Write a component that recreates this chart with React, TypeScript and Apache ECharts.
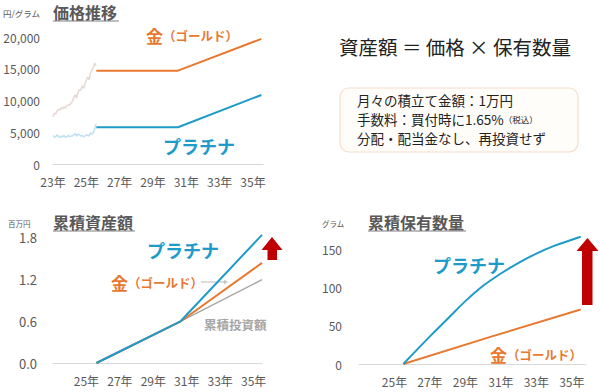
import React, { useEffect, useRef } from "react";
import * as echarts from "echarts";

// ---- data ----
const histStartYear = 23;
const goldHist = [7400, 8000, 7900, 8400, 8600, 8500, 8900, 8700, 9000, 8800, 9200, 9300, 9300, 9600, 9900, 10500, 10900, 10400, 11300, 11700, 11600, 12300, 11900, 12700, 13200, 13700, 13300, 14300, 14800, 15100, 15900, 15500];
const platHist = [4500, 4200, 4300, 4600, 4300, 4200, 4400, 4300, 4500, 4200, 4300, 4500, 4300, 4400, 4400, 4600, 4800, 4400, 4700, 4600, 4400, 4500, 4300, 4400, 4600, 4500, 4400, 4900, 4700, 4900, 5500, 6300];

const projYears = [25.6, 30.5, 35.5];
const goldProj = [14700, 14700, 19700];
const platProj = [5780, 5780, 10870];

const assetYears = [25.6, 30.6, 35.5];
const investAsset = [0, 0.59, 1.19];
const goldAsset = [0, 0.59, 1.43];
const platAsset = [0, 0.59, 1.83];

const platHoldYears = [25.5, 27, 28, 29, 30, 31, 32, 33, 34, 35, 35.5];
const platHold = [0, 36, 59, 82, 102, 118, 132, 144, 154, 162, 166];
const goldHoldYears = [25.5, 30.5, 35.5];
const goldHold = [0, 36, 71];

const priceTicks = [0, 5000, 10000, 15000, 20000];
const yearTickStep = 2;

const GOLD = "#E8782F";
const PLAT = "#1E9BC8";
const GRAY = "#595959";
const FONT = "'Noto Sans CJK JP', 'Noto Sans', sans-serif";

const pairs = (xs: number[], ys: number[]) => xs.map((x, i) => [x, ys[i]]);

export default function App() {
  const ref = useRef<HTMLDivElement>(null);
  useEffect(() => {
    if (!ref.current) return;
    const chart = echarts.init(ref.current, undefined, { renderer: "svg" });

    const xLabel = (hide23: boolean) => (v: number) => {
      if (Math.abs(v - Math.round(v)) > 1e-6) return "";
      if ((Math.round(v) - 23) % yearTickStep !== 0) return "";
      if (hide23 && Math.round(v) === 23) return "";
      return Math.round(v) + "年";
    };
    const mkX = (grid: number, max: number, hide23: boolean) => ({
      type: "value",
      gridIndex: grid,
      min: 23,
      max,
      interval: yearTickStep,
      axisLine: { show: true, lineStyle: { color: "#D9D9D9", width: 1 } },
      axisTick: { show: false },
      splitLine: { show: false },
      axisLabel: { formatter: xLabel(hide23), color: GRAY, fontSize: 12, fontFamily: FONT, margin: 11 },
    });
    const mkY = (grid: number, max: number, interval: number, fmt: (v: number) => string, fs: number, margin: number) => ({
      type: "value",
      gridIndex: grid,
      min: 0,
      max,
      interval,
      axisLine: { show: false },
      axisTick: { show: false },
      splitLine: { show: false },
      axisLabel: { formatter: fmt, color: GRAY, fontSize: fs, fontFamily: FONT, margin },
    });
    const isMult = (v: number, s: number) => Math.abs(v / s - Math.round(v / s)) < 1e-6;

    const line = (xi: number, data: number[][], color: string, width: number, smooth: any = false) => ({
      type: "line",
      xAxisIndex: xi,
      yAxisIndex: xi,
      data,
      showSymbol: false,
      symbol: "none",
      smooth,
      lineStyle: { color, width },
      itemStyle: { color },
      clip: false,
    });

    const histX = goldHist.map((_, i) => histStartYear + i / 12);

    const txt = (x: number, y: number, text: string, size: number, color: string, weight: any = "normal", align = "left") => ({
      type: "text",
      x,
      y,
      style: { text, fill: color, fontSize: size, fontWeight: weight, fontFamily: FONT, align, verticalAlign: "middle" },
    });
    const goldLabel = (x: number, y: number) => ({
      type: "text",
      x,
      y,
      style: {
        text: "{a|金}{b|（ゴールド）}",
        verticalAlign: "middle",
        align: "left",
        rich: {
          a: { fontSize: 17, fontWeight: "bold", fill: GOLD, fontFamily: FONT },
          b: { fontSize: 12.5, fontWeight: "bold", fill: GOLD, fontFamily: FONT },
        },
      },
    });
    const title = (x: number, y: number, text: string, w: number) => [
      txt(x, y, text, 16, GRAY, "bold"),
      { type: "line", shape: { x1: x, y1: y + 9, x2: x + w, y2: y + 9 }, style: { stroke: "#7F7F7F", lineWidth: 1.2 } },
    ];

    chart.setOption({
      animation: false,
      backgroundColor: "#ffffff",
      grid: [
        { left: 53, top: 37, width: 210, height: 127 },
        { left: 53, top: 230, width: 209, height: 133 },
        { left: 359, top: 226, width: 227, height: 138 },
      ],
      xAxis: [mkX(0, 35.6, false), mkX(1, 35.5, true), mkX(2, 35.8, true)],
      yAxis: [
        mkY(0, priceTicks[priceTicks.length - 1], priceTicks[1], (v: number) => v.toLocaleString("en-US"), 12, 13),
        mkY(1, 1.9, 0.6, (v: number) => (isMult(v, 0.6) ? v.toFixed(1) : ""), 13, 16),
        mkY(2, 180, 50, (v: number) => (isMult(v, 50) ? String(v) : ""), 12, 17),
      ],
      series: [
        line(0, pairs(histX, goldHist), "#E6D8D3", 1.5),
        line(0, pairs(histX, platHist), "#BEE0F2", 1.5),
        line(0, pairs(projYears, goldProj), GOLD, 2),
        line(0, pairs(projYears, platProj), PLAT, 2),
        line(1, pairs(assetYears, investAsset), "#A6A6A6", 1.5),
        line(1, pairs(assetYears, goldAsset), GOLD, 2),
        line(1, pairs(assetYears, platAsset), PLAT, 2),
        line(2, pairs(goldHoldYears, goldHold), GOLD, 2),
        line(2, pairs(platHoldYears, platHold), PLAT, 2, 0.4),
      ],
      graphic: [
        // top-left chart
        txt(3, 13, "円/グラム", 8.5, GRAY),
        ...title(53, 12, "価格推移", 66),
        goldLabel(146, 35),
        txt(163, 146, "プラチナ", 18, PLAT, "bold"),
        // formula + box
        txt(455, 46, "資産額 ＝ 価格 × 保有数量", 19.5, "#222222", "normal", "center"),
        {
          type: "rect",
          shape: { x: 340, y: 88, width: 238, height: 64, r: 9 },
          style: { fill: "#FFFDFA", stroke: "#F6DCC6", lineWidth: 1.2 },
        },
        txt(357, 100, "月々の積立て金額：1万円", 13.5, "#222222"),
        {
          type: "text",
          x: 357,
          y: 119,
          style: {
            text: "{m|手数料：買付時に1.65%}{s|（税込）}",
            verticalAlign: "middle",
            align: "left",
            rich: {
              m: { fontSize: 13.5, fill: "#222222", fontFamily: FONT },
              s: { fontSize: 8.5, fill: "#222222", fontFamily: FONT },
            },
          },
        },
        txt(357, 138, "分配・配当金なし、再投資せず", 13.5, "#222222"),
        // bottom-left chart
        txt(8, 223, "百万円", 7.5, GRAY),
        ...title(53, 222, "累積資産額", 82),
        txt(147, 250, "プラチナ", 18, PLAT, "bold"),
        goldLabel(111, 282),
        { type: "line", shape: { x1: 201, y1: 282, x2: 224, y2: 282 }, style: { stroke: "#C9C9C9", lineWidth: 1.3 } },
        { type: "polygon", shape: { points: [[224, 279.5], [228, 282], [224, 284.5]] }, style: { fill: "#C9C9C9" } },
        txt(204, 324, "累積投資額", 12.5, "#A6A6A6", "bold"),
        {
          type: "polygon",
          shape: { points: [[272, 237], [282.5, 250], [277, 250], [277, 260], [267.5, 260], [267.5, 250], [261.5, 250]] },
          style: { fill: "#C00000" },
        },
        // bottom-right chart
        txt(322, 223, "グラム", 7.5, GRAY),
        ...title(368, 222, "累積保有数量", 98),
        txt(433, 265, "プラチナ", 18, PLAT, "bold"),
        goldLabel(490, 354),
        {
          type: "polygon",
          shape: { points: [[587.5, 238], [598.5, 251], [592.5, 251], [592.5, 305], [582, 305], [582, 251], [576.5, 251]] },
          style: { fill: "#C00000" },
        },
      ],
    });
    return () => chart.dispose();
  }, []);
  return <div ref={ref} style={{ position: "absolute", left: 0, top: 0, width: 600, height: 392 }} />;
}
